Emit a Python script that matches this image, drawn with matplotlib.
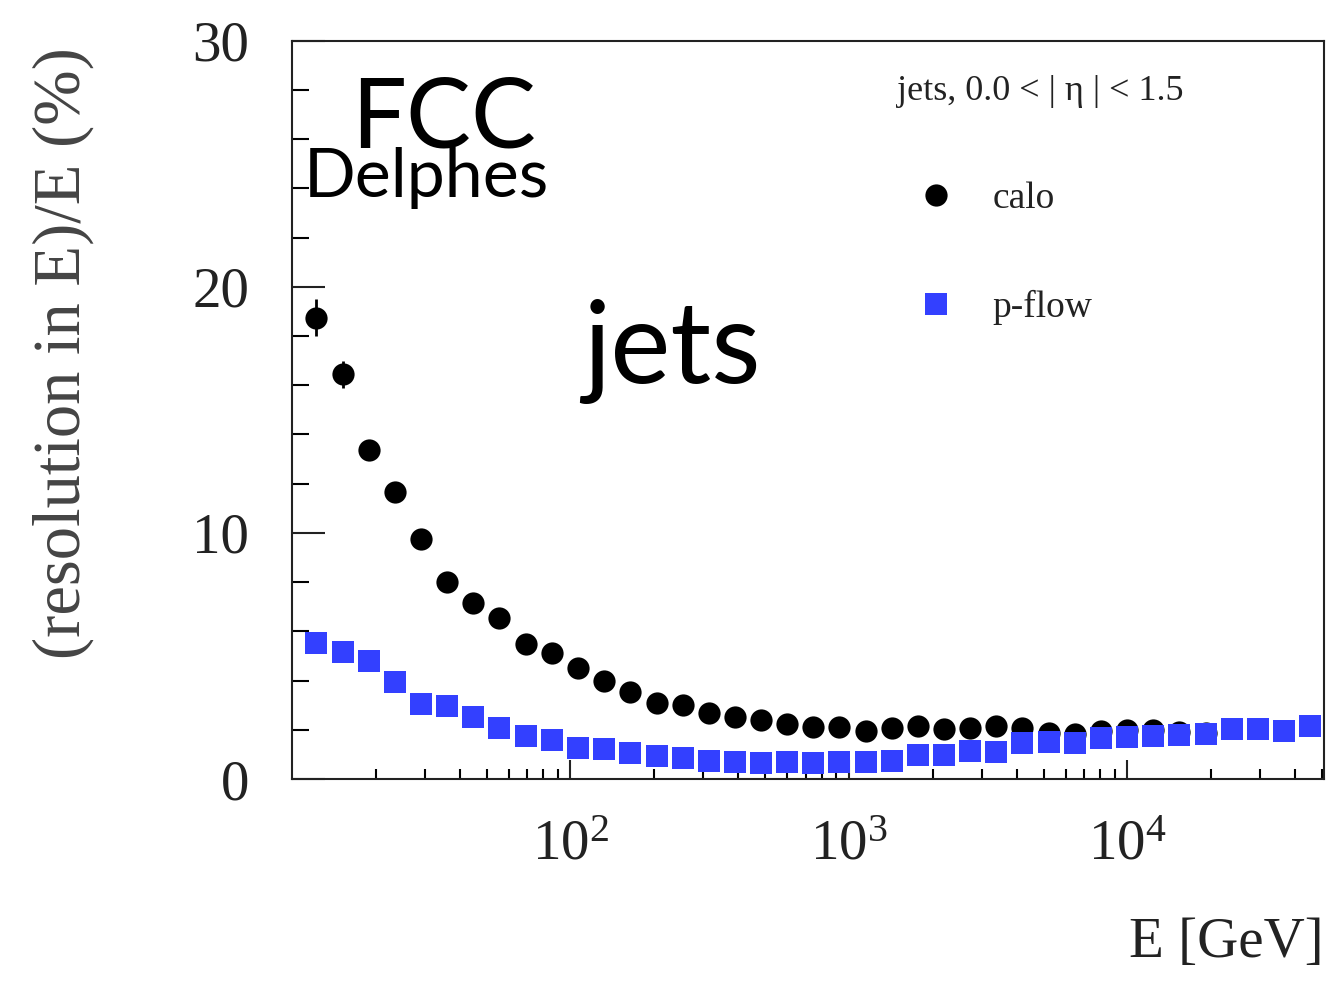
import matplotlib
matplotlib.use("Agg")
import matplotlib.pyplot as plt
from matplotlib.ticker import FixedLocator, LogFormatterMathtext, LogLocator, MultipleLocator, NullFormatter
from matplotlib.lines import Line2D

plt.rcParams['font.family'] = ['Liberation Serif', 'DejaVu Serif']
plt.rcParams['mathtext.fontset'] = 'custom'
plt.rcParams['mathtext.rm'] = 'Liberation Serif'
plt.rcParams['mathtext.default'] = 'regular'

# Jet energy (GeV) at each measured point
energy = [12.2, 15.2, 18.9, 23.4, 29.1, 36.1, 44.8, 55.6, 69.0, 85.7,
          106, 132, 164, 204, 253, 314, 389, 483, 600, 745,
          924, 1147, 1424, 1768, 2195, 2725, 3382, 4199, 5212, 6471,
          8032, 9970, 12380, 15370, 19070, 23680, 29390, 36490, 45290]

# Relative energy resolution (%) -- calorimeter-only jets
calo_res = [18.75, 16.45, 13.37, 11.65, 9.76, 8.00, 7.14, 6.54, 5.47, 5.14,
            4.50, 3.98, 3.52, 3.08, 3.01, 2.70, 2.51, 2.40, 2.22, 2.13,
            2.10, 1.96, 2.06, 2.15, 2.02, 2.06, 2.15, 2.06, 1.88, 1.84,
            1.95, 1.99, 1.99, 1.92, 1.86]
calo_err = [0.75, 0.55, 0.30, 0.25, 0.20, 0.15, 0.12, 0.10, 0.08, 0.08,
            0.06, 0.05, 0.05, 0.04, 0.04, 0.03, 0.03, 0.03, 0.03, 0.03,
            0.03, 0.03, 0.03, 0.03, 0.03, 0.03, 0.03, 0.03, 0.03, 0.03,
            0.03, 0.03, 0.03, 0.03, 0.03]

# Relative energy resolution (%) -- particle-flow jets
pflow_res = [5.54, 5.18, 4.81, 3.96, 3.05, 2.97, 2.53, 2.06, 1.75, 1.59,
             1.27, 1.21, 1.04, 0.93, 0.84, 0.75, 0.70, 0.64, 0.70, 0.64,
             0.68, 0.68, 0.73, 0.98, 0.98, 1.15, 1.08, 1.45, 1.52, 1.45,
             1.65, 1.72, 1.75, 1.79, 1.82, 2.02, 2.02, 1.95, 2.15]

# Labelled decades on the energy axis
x_major = [1e2, 1e3, 1e4]

W, H = 1336, 981
fig = plt.figure(figsize=(W / 100, H / 100), dpi=100)
ax = fig.add_axes([292 / W, 1 - 779 / H, (1324 - 292) / W, (779 - 40.7) / H])

BLUE = '#3340ff'
n_calo = len(calo_res)
ax.errorbar(energy[:n_calo], calo_res, yerr=calo_err, fmt='o', color='black',
            ms=16, mew=0, elinewidth=2, capsize=5, capthick=2, zorder=3)
ax.plot(energy, pflow_res, 's', color=BLUE, ms=16, mew=0, zorder=4)

ax.set_xscale('log')
ax.set_xlim(10, 5.08e4)
ax.set_ylim(0, 30)

ax.xaxis.set_major_locator(FixedLocator(x_major))
ax.xaxis.set_major_formatter(LogFormatterMathtext())
ax.xaxis.set_minor_locator(LogLocator(base=10, subs=range(2, 10), numticks=50))
ax.xaxis.set_minor_formatter(NullFormatter())
ax.yaxis.set_major_locator(MultipleLocator(10))
ax.yaxis.set_minor_locator(MultipleLocator(2))

for s in ax.spines.values():
    s.set_linewidth(1.5)
    s.set_color('#222222')

ax.tick_params(axis='y', which='major', direction='in', length=24, width=1.5,
               pad=31, labelsize=41, colors='#222222')
ax.tick_params(axis='y', which='minor', direction='in', length=12, width=1.5)
ax.tick_params(axis='x', which='major', direction='in', length=14, width=1.5,
               pad=29, labelsize=41, colors='#222222')
ax.tick_params(axis='x', which='minor', direction='in', length=7, width=1.5)

fig.text(63 / W, 1 - 353 / H, '(resolution in E)/E (%)', rotation=90,
         ha='center', va='center', fontsize=48, color='#444444')
fig.text(1324 / W, 1 - 943 / H, 'E [GeV]', ha='right', va='center',
         fontsize=41, color='#222222')

# Experiment / tool labels
fig.text(444 / W, 1 - 148 / H, 'FCC', family='Lato', fontsize=70,
         ha='center', va='baseline', color='black')
fig.text(426 / W, 1 - 197 / H, 'Delphes', family='Lato', fontsize=49,
         ha='center', va='baseline', color='black')
fig.text(672 / W, 1 - 383 / H, 'jets', family='Lato', fontsize=82,
         ha='center', va='baseline', color='black')

# Legend
fig.text(1040 / W, 1 - 91 / H, 'jets, 0.0 < | η | < 1.5', ha='center',
         va='center', fontsize=26, color='#222222')
handles = [Line2D([], [], ls='none', marker='o', color='black', ms=16, mew=0),
           Line2D([], [], ls='none', marker='s', color=BLUE, ms=16, mew=0)]
fig.legend(handles, ['calo', 'p-flow'], loc='upper left',
           bbox_to_anchor=(908 / W, 1 - 182 / H), frameon=False,
           fontsize=27, labelspacing=1.95, handletextpad=0.75,
           borderaxespad=0, borderpad=0, handlelength=1.5,
           labelcolor='#222222')

fig.savefig('out.png', dpi=100)
